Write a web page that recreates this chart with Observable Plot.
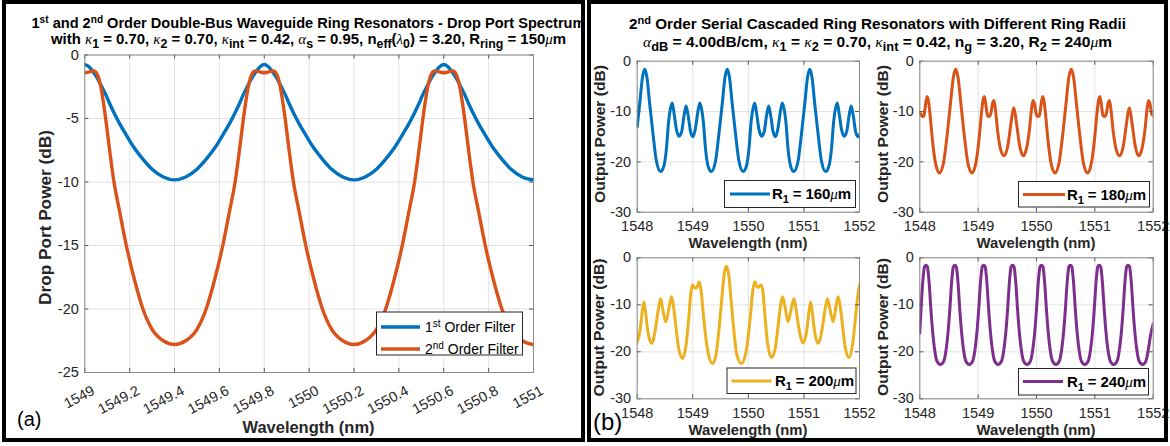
<!DOCTYPE html>
<html><head><meta charset="utf-8">
<script src="https://cdn.jsdelivr.net/npm/d3@7"></script>
<script src="https://cdn.jsdelivr.net/npm/@observablehq/plot@0.6"></script>
<style>
body{margin:0;background:#fff;}
#root{position:relative;width:1170px;height:446px;overflow:hidden;background:#fff;}
#overlay{position:absolute;left:0;top:0;pointer-events:none;}
#overlay text{font-family:"Liberation Sans",Arial,Helvetica,sans-serif;white-space:pre;}
.tb{font-weight:bold;font-size:14.5px;fill:#000;}
.gk{font-family:"Liberation Serif","DejaVu Serif",serif;font-style:italic;font-weight:normal;}
.axl{font-weight:bold;fill:#262626;}
.lg{fill:#000;}
</style>
</head><body><div id="root"></div>
<script>
// ---------- Panel (a) data ----------
const xTicksA = [1549, 1549.2, 1549.4, 1549.6, 1549.8, 1550, 1550.2, 1550.4, 1550.6, 1550.8, 1551];
const yTicksA = [-25, -20, -15, -10, -5, 0];
const seriesNamesA = ["st Order Filter", "nd Order Filter"];
const waveA = [1549.00,1549.02,1549.04,1549.055,1549.07,1549.08,1549.093,1549.11,1549.13,1549.155,1549.185,1549.22,1549.259,1549.30,1549.35,1549.40,
1549.45,1549.50,1549.541,1549.58,1549.615,1549.645,1549.67,1549.69,1549.707,1549.72,1549.73,1549.745,1549.76,1549.78,1549.80,
1549.82,1549.84,1549.855,1549.87,1549.88,1549.893,1549.91,1549.93,1549.955,1549.985,1550.02,1550.059,1550.10,1550.15,1550.20,
1550.25,1550.30,1550.341,1550.38,1550.415,1550.445,1550.47,1550.49,1550.507,1550.52,1550.53,1550.545,1550.56,1550.58,1550.60,
1550.62,1550.64,1550.655,1550.67,1550.68,1550.693,1550.71,1550.73,1550.755,1550.785,1550.82,1550.859,1550.90,1550.95,1551.00];
const firstOrderA = [-0.75,-0.95,-1.4,-1.8,-2.3,-2.65,-3.1,-3.8,-4.55,-5.4,-6.3,-7.3,-8.2,-9.0,-9.6,-9.83,
-9.6,-9.0,-8.2,-7.3,-6.3,-5.4,-4.55,-3.8,-3.1,-2.65,-2.3,-1.8,-1.4,-0.95,-0.75,
-0.95,-1.4,-1.8,-2.3,-2.65,-3.1,-3.8,-4.55,-5.4,-6.3,-7.3,-8.2,-9.0,-9.6,-9.83,
-9.6,-9.0,-8.2,-7.3,-6.3,-5.4,-4.55,-3.8,-3.1,-2.65,-2.3,-1.8,-1.4,-0.95,-0.75,
-0.95,-1.4,-1.8,-2.3,-2.65,-3.1,-3.8,-4.55,-5.4,-6.3,-7.3,-8.2,-9.0,-9.6,-9.83];
const secondOrderA = [-1.4,-1.33,-1.25,-1.5,-2.4,-3.4,-5.0,-7.4,-10.0,-12.3,-15.0,-17.6,-20.0,-21.6,-22.5,-22.8,
-22.5,-21.6,-20.0,-17.6,-15.0,-12.3,-10.0,-7.4,-5.0,-3.4,-2.4,-1.5,-1.25,-1.33,-1.4,
-1.33,-1.25,-1.5,-2.4,-3.4,-5.0,-7.4,-10.0,-12.3,-15.0,-17.6,-20.0,-21.6,-22.5,-22.8,
-22.5,-21.6,-20.0,-17.6,-15.0,-12.3,-10.0,-7.4,-5.0,-3.4,-2.4,-1.5,-1.25,-1.33,-1.4,
-1.33,-1.25,-1.5,-2.4,-3.4,-5.0,-7.4,-10.0,-12.3,-15.0,-17.6,-20.0,-21.6,-22.5,-22.8];

// ---------- Panel (b) data ----------
const xTicksB = [1548, 1549, 1550, 1551, 1552];
const yTicksB = [-30, -20, -10, 0];
const radiiB = ["160", "180", "200", "240"];
const wave160 = [1548.000,1548.045,1548.095,1548.135,
1548.175,1548.225,1548.285,1548.345,1548.42,1548.475,1548.525,1548.565,1548.595,1548.63,1548.665,1548.705,1548.755,1548.80,1548.84,1548.88,1548.92,1548.96,1549.005,1549.045,1549.085,1549.125,1549.16,1549.19,1549.23,1549.28,1549.335,1549.41,1549.47,1549.53,1549.58,1549.62,
1549.66,1549.71,1549.77,1549.83,1549.905,1549.96,1550.01,1550.05,1550.08,1550.115,1550.15,1550.19,1550.24,1550.285,1550.325,1550.365,1550.405,1550.445,1550.49,1550.53,1550.57,1550.61,1550.645,1550.675,1550.715,1550.765,1550.82,1550.895,1550.955,1551.015,1551.065,1551.105,
1551.145,1551.195,1551.255,1551.315,1551.39,1551.445,1551.495,1551.535,1551.565,1551.60,1551.635,1551.675,1551.725,1551.77,1551.81,1551.85,1551.89,1551.93,1551.975,1552.0];
const power160 = [-13.0,-8.5,-3.2,-1.6,
-3.2,-8.5,-14.5,-19.8,-21.9,-21.0,-17.5,-12.0,-9.6,-8.3,-10.5,-13.5,-14.9,-14.0,-11.0,-8.9,-11.0,-14.0,-15.0,-13.5,-10.5,-8.3,-9.6,-12.0,-17.5,-21.0,-21.9,-19.8,-14.5,-8.5,-3.2,-1.6,
-3.2,-8.5,-14.5,-19.8,-21.9,-21.0,-17.5,-12.0,-9.6,-8.3,-10.5,-13.5,-14.9,-14.0,-11.0,-8.9,-11.0,-14.0,-15.0,-13.5,-10.5,-8.3,-9.6,-12.0,-17.5,-21.0,-21.9,-19.8,-14.5,-8.5,-3.2,-1.6,
-3.2,-8.5,-14.5,-19.8,-21.9,-21.0,-17.5,-12.0,-9.6,-8.3,-10.5,-13.5,-14.9,-14.0,-11.0,-8.9,-11.0,-14.0,-15.0,-14.6];
const wave180 = [1548.000,1548.015,1548.045,1548.07,1548.10,1548.125,1548.15,1548.175,1548.215,1548.265,1548.335,1548.405,1548.465,1548.525,1548.575,1548.615,
1548.655,1548.705,1548.765,1548.825,1548.895,1548.965,1549.015,1549.055,1549.08,1549.105,1549.13,1549.16,1549.185,1549.215,1549.245,1549.27,1549.295,1549.335,1549.385,1549.445,1549.505,1549.555,1549.585,1549.61,1549.635,1549.665,1549.715,1549.77,1549.825,1549.875,1549.915,1549.94,1549.965,1549.995,1550.025,1550.05,1550.08,1550.105,1550.13,1550.155,1550.195,1550.245,1550.315,1550.385,1550.445,1550.505,1550.555,1550.595,
1550.635,1550.685,1550.745,1550.805,1550.875,1550.945,1550.995,1551.035,1551.06,1551.085,1551.11,1551.14,1551.165,1551.195,1551.225,1551.25,1551.275,1551.315,1551.365,1551.425,1551.485,1551.535,1551.565,1551.59,1551.615,1551.645,1551.695,1551.75,1551.805,1551.855,1551.895,1551.92,1551.945,1551.975,1552.0];
const power180 = [-10.3,-10.5,-11.0,-10.8,-8.5,-7.0,-8.0,-10.5,-15.5,-20.0,-22.2,-20.3,-15.0,-8.5,-3.2,-1.6,
-3.2,-8.5,-15.0,-20.3,-22.2,-20.0,-15.5,-10.5,-8.0,-7.0,-8.5,-10.8,-11.0,-10.5,-8.5,-7.8,-9.5,-14.0,-17.5,-18.8,-17.0,-13.0,-10.5,-9.3,-10.5,-13.0,-17.0,-18.8,-17.5,-14.0,-9.5,-7.8,-8.5,-10.5,-11.0,-10.8,-8.5,-7.0,-8.0,-10.5,-15.5,-20.0,-22.2,-20.3,-15.0,-8.5,-3.2,-1.6,
-3.2,-8.5,-15.0,-20.3,-22.2,-20.0,-15.5,-10.5,-8.0,-7.0,-8.5,-10.8,-11.0,-10.5,-8.5,-7.8,-9.5,-14.0,-17.5,-18.8,-17.0,-13.0,-10.5,-9.3,-10.5,-13.0,-17.0,-18.8,-17.5,-14.0,-9.5,-7.8,-8.5,-10.5,-10.8];
const wave200 = [1548.00,1548.05,1548.09,1548.12,1548.15,1548.19,1548.26,1548.33,1548.38,1548.42,1548.46,1548.515,1548.575,1548.62,1548.655,1548.70,1548.75,1548.815,1548.88,1548.93,1548.965,1548.995,1549.025,1549.055,1549.085,1549.115,1549.15,1549.19,1549.24,1549.29,1549.355,1549.42,1549.47,1549.52,1549.565,1549.605,1549.645,1549.69,1549.74,1549.79,1549.875,1549.94,1549.99,1550.04,1550.08,1550.115,1550.145,1550.175,1550.205,1550.23,1550.265,1550.30,1550.35,1550.415,1550.48,1550.53,1550.575,1550.615,1550.66,1550.715,1550.77,1550.82,1550.86,1550.91,1550.985,1551.05,1551.09,1551.12,1551.15,1551.19,1551.255,1551.33,1551.38,1551.425,1551.47,1551.525,1551.575,1551.615,1551.655,1551.70,1551.75,1551.815,1551.88,1551.93,1551.97,1552.00];
const power200 = [-17.9,-15.5,-11.5,-9.4,-11.5,-15.5,-18.2,-15.0,-11.0,-8.7,-11.0,-13.6,-10.5,-8.3,-10.5,-15.0,-19.5,-21.4,-18.5,-12.5,-7.5,-5.8,-6.3,-6.5,-6.0,-5.1,-7.0,-12.0,-17.5,-21.0,-22.5,-20.5,-15.5,-9.0,-3.5,-1.8,-3.5,-9.0,-15.5,-20.5,-22.5,-21.0,-17.5,-12.0,-7.0,-5.1,-5.9,-6.3,-6.0,-5.8,-7.5,-12.5,-18.5,-21.2,-19.5,-15.0,-10.5,-8.3,-10.5,-13.6,-11.0,-8.7,-11.0,-15.0,-18.1,-15.5,-11.5,-9.4,-11.5,-15.5,-18.2,-15.0,-11.0,-8.7,-11.0,-13.6,-10.5,-8.3,-10.5,-15.0,-19.5,-21.2,-18.0,-12.5,-8.0,-5.8];
const wave240 = [1548.000,1548.025,1548.048,1548.065,1548.08,1548.105,1548.13,1548.145,1548.162,1548.185,1548.215,1548.255,1548.295,1548.3525,
1548.41,1548.45,1548.49,1548.52,1548.543,1548.56,1548.575,1548.60,1548.625,1548.64,1548.657,1548.68,1548.71,1548.75,1548.79,1548.8475,
1548.905,1548.945,1548.985,1549.015,1549.038,1549.055,1549.07,1549.095,1549.12,1549.135,1549.152,1549.175,1549.205,1549.245,1549.285,1549.3425,
1549.40,1549.44,1549.48,1549.51,1549.533,1549.55,1549.565,1549.59,1549.615,1549.63,1549.647,1549.67,1549.70,1549.74,1549.78,1549.8375,
1549.895,1549.935,1549.975,1550.005,1550.028,1550.045,1550.06,1550.085,1550.11,1550.125,1550.142,1550.165,1550.195,1550.235,1550.275,1550.3325,
1550.39,1550.43,1550.47,1550.50,1550.523,1550.54,1550.555,1550.58,1550.605,1550.62,1550.637,1550.66,1550.69,1550.73,1550.77,1550.8275,
1550.885,1550.925,1550.965,1550.995,1551.018,1551.035,1551.05,1551.075,1551.10,1551.115,1551.132,1551.155,1551.185,1551.225,1551.265,1551.3225,
1551.38,1551.42,1551.46,1551.49,1551.513,1551.53,1551.545,1551.57,1551.595,1551.61,1551.627,1551.65,1551.68,1551.72,1551.76,1551.8175,
1551.875,1551.915,1551.955,1552.0];
const power240 = [-16.0,-10.0,-5.6,-3.2,-1.9,-1.6,-1.9,-3.2,-5.6,-10.0,-15.0,-19.6,-22.0,-22.7,
-22.0,-19.6,-15.0,-10.0,-5.6,-3.2,-1.9,-1.6,-1.9,-3.2,-5.6,-10.0,-15.0,-19.6,-22.0,-22.7,
-22.0,-19.6,-15.0,-10.0,-5.6,-3.2,-1.9,-1.6,-1.9,-3.2,-5.6,-10.0,-15.0,-19.6,-22.0,-22.7,
-22.0,-19.6,-15.0,-10.0,-5.6,-3.2,-1.9,-1.6,-1.9,-3.2,-5.6,-10.0,-15.0,-19.6,-22.0,-22.7,
-22.0,-19.6,-15.0,-10.0,-5.6,-3.2,-1.9,-1.6,-1.9,-3.2,-5.6,-10.0,-15.0,-19.6,-22.0,-22.7,
-22.0,-19.6,-15.0,-10.0,-5.6,-3.2,-1.9,-1.6,-1.9,-3.2,-5.6,-10.0,-15.0,-19.6,-22.0,-22.7,
-22.0,-19.6,-15.0,-10.0,-5.6,-3.2,-1.9,-1.6,-1.9,-3.2,-5.6,-10.0,-15.0,-19.6,-22.0,-22.7,
-22.0,-19.6,-15.0,-10.0,-5.6,-3.2,-1.9,-1.6,-1.9,-3.2,-5.6,-10.0,-15.0,-19.6,-22.0,-22.7,
-22.0,-19.6,-16.5,-14.0];

const COLORS = ["#0072BD", "#D95319", "#EDB120", "#7E2F8E"];
const FONT = "'Liberation Sans', Arial, Helvetica, sans-serif";
const root = document.getElementById("root");

function zip(w, v) { return w.map((x, i) => ({w: x, v: v[i]})); }

function panel({series, xDomain, yDomain, xTicks, yTicks, width, height, ml, mr, mt, mb, left, top, sw, rotX, fs}) {
  const ph = height - mt - mb, pw = width - ml - mr;
  const marks = [
    Plot.gridX(xTicks, {stroke: "#000", strokeOpacity: 0.11}),
    Plot.gridY(yTicks, {stroke: "#000", strokeOpacity: 0.11}),
    ...series.map(s => Plot.line(zip(s.w, s.v), {x: "w", y: "v", stroke: s.color, strokeWidth: sw, curve: "monotone-x", clip: true})),
    Plot.tickX(xTicks, {x: d => d, insetTop: ph - 4, stroke: "#555"}),
    Plot.tickX(xTicks, {x: d => d, insetBottom: ph - 4, stroke: "#555"}),
    Plot.tickY(yTicks, {y: d => d, insetRight: pw - 4, stroke: "#555"}),
    Plot.tickY(yTicks, {y: d => d, insetLeft: pw - 4, stroke: "#555"}),
    Plot.frame({stroke: "#8a8a8a"}),
    Plot.axisY(yTicks, {tickSize: 0, tickPadding: 6, tickFormat: d => String(d), label: null, fontSize: fs, fill: "#262626"})
  ];
  if (rotX) {
    marks.push(Plot.text(xTicks, {x: d => d, frameAnchor: "bottom", text: d => String(d), rotate: -28, textAnchor: "end", lineAnchor: "top", dx: 6, dy: 12, fontSize: fs, fill: "#262626"}));
  } else {
    marks.push(Plot.axisX(xTicks, {tickSize: 0, tickPadding: 9, tickFormat: d => String(d), label: null, fontSize: fs, fill: "#262626"}));
  }
  const svg = Plot.plot({
    width, height, marginLeft: ml, marginRight: mr, marginTop: mt, marginBottom: mb,
    style: {fontFamily: FONT, fontSize: fs + "px", color: "#262626", background: "transparent", overflow: "visible"},
    x: {domain: xDomain, axis: null}, y: {domain: yDomain, axis: null},
    marks
  });
  svg.style.position = "absolute";
  svg.style.left = left + "px";
  svg.style.top = top + "px";
  root.appendChild(svg);
}

// Panel (a)
panel({series: [{w: waveA, v: firstOrderA, color: COLORS[0]}, {w: waveA, v: secondOrderA, color: COLORS[1]}],
  xDomain: [1549, 1551], yDomain: [-25, 0], xTicks: xTicksA, yTicks: yTicksA,
  width: 584, height: 446, ml: 84.3, mr: 51, mt: 54.5, mb: 74, left: 0, top: 0, sw: 3.4, rotX: true, fs: 14.5});

// Panel (b) subplots
const subs = [
  {w: wave160, v: power160, color: COLORS[0], left: 587, top: 0, width: 287, height: 250, ml: 49.7, mr: 15, mt: 60.7, mb: 38.3},
  {w: wave180, v: power180, color: COLORS[1], left: 875, top: 0, width: 290, height: 250, ml: 44.3, mr: 12.3, mt: 60.7, mb: 38.3},
  {w: wave200, v: power200, color: COLORS[2], left: 587, top: 240, width: 287, height: 200, ml: 49.7, mr: 15, mt: 17.3, mb: 41.7},
  {w: wave240, v: power240, color: COLORS[3], left: 875, top: 240, width: 290, height: 200, ml: 44.3, mr: 12.3, mt: 17.3, mb: 41.7}
];
for (const s of subs) {
  panel({series: [{w: s.w, v: s.v, color: s.color}], xDomain: [1548, 1552], yDomain: [-30, 0], xTicks: xTicksB, yTicks: yTicksB,
    width: s.width, height: s.height, ml: s.ml, mr: s.mr, mt: s.mt, mb: s.mb, left: s.left, top: s.top, sw: 3, rotX: false, fs: 14.5});
}

// Overlay: frames, titles, axis labels, legends
const sub = (t, fs) => `<tspan dy="4" font-size="${fs}">${t}</tspan>`;
const up = (t) => `<tspan dy="-4">${t}</tspan>`;
const sup = (t, fs) => `<tspan dy="-5" font-size="${fs}">${t}</tspan>`;
const down = (t) => `<tspan dy="5">${t}</tspan>`;
const gk = (t) => `<tspan class="gk">${t}</tspan>`;

const legendB = [
  {x: 724.5, y: 180.5, w: 131, h: 27, lx1: 730, lx2: 770, ly: 194, tx: 772, ty: 199},
  {x: 1018.5, y: 181.5, w: 131, h: 25.5, lx1: 1023, lx2: 1065, ly: 194.5, tx: 1067, ty: 199.5},
  {x: 727, y: 368, w: 129, h: 25.5, lx1: 731.5, lx2: 771.5, ly: 381, tx: 775, ty: 386},
  {x: 1018.5, y: 368.5, w: 130, h: 26.5, lx1: 1023, lx2: 1063, ly: 381.5, tx: 1067, ty: 386.5}
];
let legendsSvg = "";
legendB.forEach((L, i) => {
  legendsSvg += `<rect x="${L.x}" y="${L.y}" width="${L.w}" height="${L.h}" fill="#fff" stroke="#262626" stroke-width="1"/>`;
  legendsSvg += `<line x1="${L.lx1}" x2="${L.lx2}" y1="${L.ly}" y2="${L.ly}" stroke="${COLORS[i]}" stroke-width="3"/>`;
  legendsSvg += `<text x="${L.tx}" y="${L.ty}" class="lg" font-weight="bold" font-size="15" textLength="79" lengthAdjust="spacing">R${sub("1", 11)}${up(" = " + radiiB[i])}${gk("μ")}m</text>`;
});

const ylabB = [[605, 134], [888, 134], [604, 327.5], [888, 327]];
const xlabB = [[748, 248], [1036, 248], [748, 434.5], [1036, 434.5]];

const ov = `
<svg id="overlay" width="1170" height="446" xmlns="http://www.w3.org/2000/svg">
<defs><clipPath id="clipA"><rect x="0" y="0" width="583" height="446"/></clipPath></defs>
<g clip-path="url(#clipA)">
<text class="tb" x="308.5" y="28" text-anchor="middle" font-size="14.2" textLength="554" lengthAdjust="spacingAndGlyphs">1${sup("st", 10)}${down(" and 2")}${sup("nd", 10)}${down(" Order Double-Bus Waveguide Ring Resonators - Drop Port Spectrum")}</text>
</g>
<text class="tb" x="308.5" y="44" text-anchor="middle" textLength="515" lengthAdjust="spacingAndGlyphs">with ${gk("κ")}${sub("1", 12)}${up(" = 0.70, ")}${gk("κ")}${sub("2", 12)}${up(" = 0.70, ")}${gk("κ")}${sub("int", 12)}${up(" = 0.42, ")}${gk("α")}${sub("s", 12)}${up(" = 0.95, n")}${sub("eff", 12)}${up("(")}${gk("λ")}${sub("0", 12)}${up(") = 3.20, R")}${sub("ring", 12)}${up(" = 150")}${gk("μ")}m</text>
<text class="tb" x="877.5" y="29" text-anchor="middle" font-size="15" textLength="497" lengthAdjust="spacingAndGlyphs">2${sup("nd", 10.5)}${down(" Order Serial Cascaded Ring Resonators with Different Ring Radii")}</text>
<text class="tb" x="877.5" y="47" text-anchor="middle" font-size="15" textLength="469" lengthAdjust="spacingAndGlyphs">${gk("α")}${sub("dB", 12)}${up(" = 4.00dB/cm, ")}${gk("κ")}${sub("1", 12)}${up(" = ")}${gk("κ")}${sub("2", 12)}${up(" = 0.70, ")}${gk("κ")}${sub("int", 12)}${up(" = 0.42, n")}${sub("g", 12)}${up(" = 3.20, R")}${sub("2", 12)}${up(" = 240")}${gk("μ")}m</text>
<text class="axl" font-size="17" text-anchor="middle" textLength="175" lengthAdjust="spacingAndGlyphs" transform="translate(50.5,217.5) rotate(-90)">Drop Port Power (dB)</text>
<text class="axl" font-size="16.5" text-anchor="middle" textLength="132" lengthAdjust="spacingAndGlyphs" x="308.5" y="433">Wavelength (nm)</text>
${ylabB.map(([x, y]) => `<text class="axl" font-size="15.5" text-anchor="middle" textLength="138" lengthAdjust="spacingAndGlyphs" transform="translate(${x},${y}) rotate(-90)">Output Power (dB)</text>`).join("")}
${xlabB.map(([x, y]) => `<text class="axl" font-size="15" text-anchor="middle" textLength="119" lengthAdjust="spacingAndGlyphs" x="${x}" y="${y}">Wavelength (nm)</text>`).join("")}
<rect x="376.5" y="312" width="146" height="43" fill="#fff" stroke="#262626" stroke-width="1"/>
<line x1="381" x2="420" y1="327" y2="327" stroke="${COLORS[0]}" stroke-width="3.4"/>
<line x1="381" x2="420" y1="349" y2="349" stroke="${COLORS[1]}" stroke-width="3.4"/>
<text class="lg" x="425" y="332" font-size="14">1${sup(seriesNamesA[0].slice(0, 2), 10)}${down(seriesNamesA[0].slice(2))}</text>
<text class="lg" x="425" y="354" font-size="14">2${sup(seriesNamesA[1].slice(0, 2), 10)}${down(seriesNamesA[1].slice(2))}</text>
${legendsSvg}
<text x="17" y="426" font-size="20" fill="#000">(a)</text>
<text x="593" y="430" font-size="24" fill="#000">(b)</text>
<rect x="4" y="2" width="579" height="438" fill="none" stroke="#000" stroke-width="4"/>
<rect x="589" y="2" width="577" height="438" fill="none" stroke="#000" stroke-width="4"/>
</svg>`;
root.insertAdjacentHTML("beforeend", ov);
</script>
</body></html>
